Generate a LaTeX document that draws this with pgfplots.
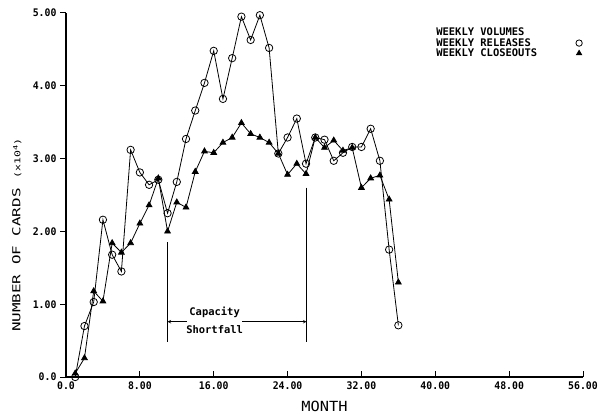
\documentclass[border=0pt]{standalone}
\usepackage{fontspec}
\usepackage{pgfplots}
\pgfplotsset{compat=1.18}
\newfontfamily\plotfont{DejaVu Sans Mono}
\newfontfamily\tickfont[FakeStretch=0.94]{DejaVu Sans Mono}
\newfontfamily\widefont[FakeStretch=1.45]{DejaVu Sans Mono}
\newfontfamily\labfont[FakeStretch=1.1]{DejaVu Sans Mono}
\begin{document}
\begin{tikzpicture}
\begin{axis}[
  scale only axis,
  width=517bp, height=364bp,
  xmin=0, xmax=56, ymin=0, ymax=5,
  axis x line*=bottom, axis y line*=left,
  axis line style={line width=1.2pt},
  clip=false,
  xtick={0,8,16,24,32,40,48,56},
  xticklabels={0.0,8.00,16.00,24.00,32.00,40.00,48.00,56.00},
  ytick={0,1,2,3,4,5},
  yticklabels={0.0,1.00,2.00,3.00,4.00,5.00},
  xtick align=inside, ytick align=outside,
  major tick length=6bp,
  tick style={line width=1pt, black},
  ticklabel style={font=\tickfont\bfseries\fontsize{10.5}{12}\selectfont},
  xticklabel style={yshift=-1bp},
  xlabel={MONTH},
  xlabel style={at={(rel axis cs:0.5,-0.08)}, anchor=center, font=\labfont\fontsize{14}{16}\selectfont},
  ylabel={NUMBER OF CARDS {\fontsize{8}{10}\selectfont (x10\textsuperscript{4})}},
  ylabel style={at={(rel axis cs:-0.095,0.39)}, anchor=center, font=\widefont\fontsize{11}{13}\selectfont},
  legend style={at={(rel axis cs:0.714,0.9615)}, anchor=north west, draw=none, fill=none,
    font=\plotfont\bfseries\fontsize{10.5}{11}\selectfont, row sep=-1bp, column sep=0pt,
    inner sep=0pt, nodes={inner sep=1pt}},
  legend cell align=left,
  legend plot pos=right,
]
\addlegendimage{empty legend}
\addlegendentry{WEEKLY VOLUMES}
\addplot[black, line width=0.8pt, mark=o, mark size=3.7bp,
  mark options={line width=0.8pt},
  legend image code/.code={\draw[black, line width=0.8pt, mark=o, mark size=3.2bp] plot coordinates {(41bp,0bp)};}]
coordinates {(1,0.0)(2,0.70)(3,1.03)(4,2.16)(5,1.68)(6,1.45)(7,3.12)(8,2.81)(9,2.64)(10,2.71)(11,2.25)(12,2.68)(13,3.27)(14,3.66)(15,4.04)(16,4.48)(17,3.82)(18,4.38)(19,4.95)(20,4.63)(21,4.97)(22,4.52)(23,3.07)(24,3.29)(25,3.55)(26,2.93)(27,3.29)(28,3.26)(29,2.97)(30,3.08)(31,3.16)(32,3.16)(33,3.41)(34,2.97)(35,1.75)(36,0.71)};
\addlegendentry{WEEKLY RELEASES}
\addplot[black, line width=0.8pt, mark=triangle*, mark size=3.3bp,
  legend image code/.code={\draw[black, mark=triangle*, mark size=3bp] plot coordinates {(41bp,0bp)};}]
coordinates {(1,0.05)(2,0.26)(3,1.18)(4,1.04)(5,1.84)(6,1.71)(7,1.84)(8,2.11)(9,2.36)(10,2.73)(11,2.00)(12,2.40)(13,2.33)(14,2.82)(15,3.10)(16,3.08)(17,3.22)(18,3.29)(19,3.49)(20,3.34)(21,3.29)(22,3.22)(23,3.07)(24,2.78)(25,2.93)(26,2.79)(27,3.29)(28,3.15)(29,3.25)(30,3.11)(31,3.15)(32,2.60)(33,2.73)(34,2.77)(35,2.44)(36,1.30)};
\addlegendentry{WEEKLY CLOSEOUTS}
% Capacity shortfall annotation
\draw[black, line width=0.8pt] (axis cs:11,1.85) -- (axis cs:11,0.48);
\draw[black, line width=0.8pt] (axis cs:26.05,2.60) -- (axis cs:26.05,0.48);
\draw[black, line width=0.6pt, ->, >=stealth] (axis cs:13.1,0.76) -- (axis cs:11,0.76);
\draw[black, line width=0.6pt, ->, >=stealth] (axis cs:19.1,0.76) -- (axis cs:26.05,0.76);
\node[font=\plotfont\bfseries\fontsize{10.5}{12}\selectfont, align=center, inner sep=0pt] at (axis cs:16.1,0.78) {Capacity\\[6bp]Shortfall};
\coordinate (SW) at (rel axis cs:0,0);
\coordinate (NE) at (rel axis cs:1,1);
\end{axis}
\pgfresetboundingbox
\path ([xshift=-66bp,yshift=-39bp]SW) rectangle ([xshift=15bp,yshift=13bp]NE);
\end{tikzpicture}
\end{document}
